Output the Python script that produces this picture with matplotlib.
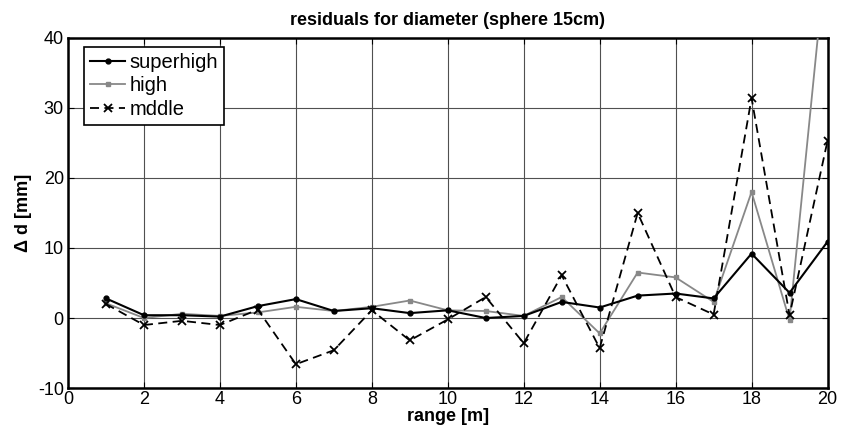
import matplotlib
matplotlib.use("Agg")
import matplotlib.pyplot as plt

x = [1, 2, 3, 4, 5, 6, 7, 8, 9, 10, 11, 12, 13, 14, 15, 16, 17, 18, 19, 20]
superhigh = [2.8, 0.4, 0.4, 0.2, 1.7, 2.7, 1.0, 1.4, 0.7, 1.1, 0.0, 0.3, 2.3, 1.5, 3.2, 3.5, 2.8, 9.2, 3.6, 10.9]
high = [2.1, 0.0, 0.6, 0.3, 0.8, 1.6, 1.0, 1.6, 2.5, 1.1, 1.0, 0.3, 3.0, -2.2, 6.5, 5.8, 2.3, 18.0, -0.3, 54.0]
mddle = [2.0, -1.0, -0.4, -1.0, 1.2, -6.6, -4.6, 1.1, -3.2, -0.2, 3.0, -3.6, 6.1, -4.3, 15.0, 3.0, 0.5, 31.4, 0.4, 25.3]

plt.rcParams['font.family'] = ['Liberation Sans', 'DejaVu Sans']
plt.rcParams['axes.unicode_minus'] = False

fig = plt.figure(figsize=(8.42, 4.36), dpi=100)
ax = fig.add_axes([0.0808, 0.110, 0.902, 0.803])

ax.plot(x, superhigh, '-', color='black', marker='o', markersize=3.5, linewidth=1.5, label='superhigh', zorder=4)
ax.plot(x, high, '-', color='#888888', marker='s', markersize=3.5, linewidth=1.3, label='high', zorder=3)
ax.plot(x, mddle, '--', color='black', marker='x', markersize=6, markeredgewidth=1.3, linewidth=1.3,
        dashes=(5, 3), label='mddle', zorder=5)

ax.set_xlim(0, 20)
ax.set_ylim(-10, 40)
ax.set_xticks(range(0, 21, 2))
ax.set_yticks(range(-10, 41, 10))
ax.grid(True, color='#505050', linewidth=0.8, linestyle='-')
ax.set_axisbelow(True)
ax.tick_params(direction='in', labelsize=13, length=4, top=True, right=True, pad=2)
ax.tick_params(axis='y', pad=3)
for s in ax.spines.values():
    s.set_linewidth(1.8)

ax.set_title('residuals for diameter (sphere 15cm)', fontsize=13, fontweight='bold', pad=9)
ax.set_xlabel('range [m]', fontsize=13, fontweight='bold', labelpad=0)
ax.set_ylabel('Δ d [mm]', fontsize=13, fontweight='bold', labelpad=4)

leg = ax.legend(loc='upper left', fontsize=14.5, fancybox=False, framealpha=1, edgecolor='black',
                handlelength=1.75, handletextpad=0.2, borderpad=0.3, labelspacing=0.22,
                borderaxespad=0, bbox_to_anchor=(0.021, 0.975))
leg.get_frame().set_linewidth(1.2)

fig.savefig('out.png', dpi=100)
